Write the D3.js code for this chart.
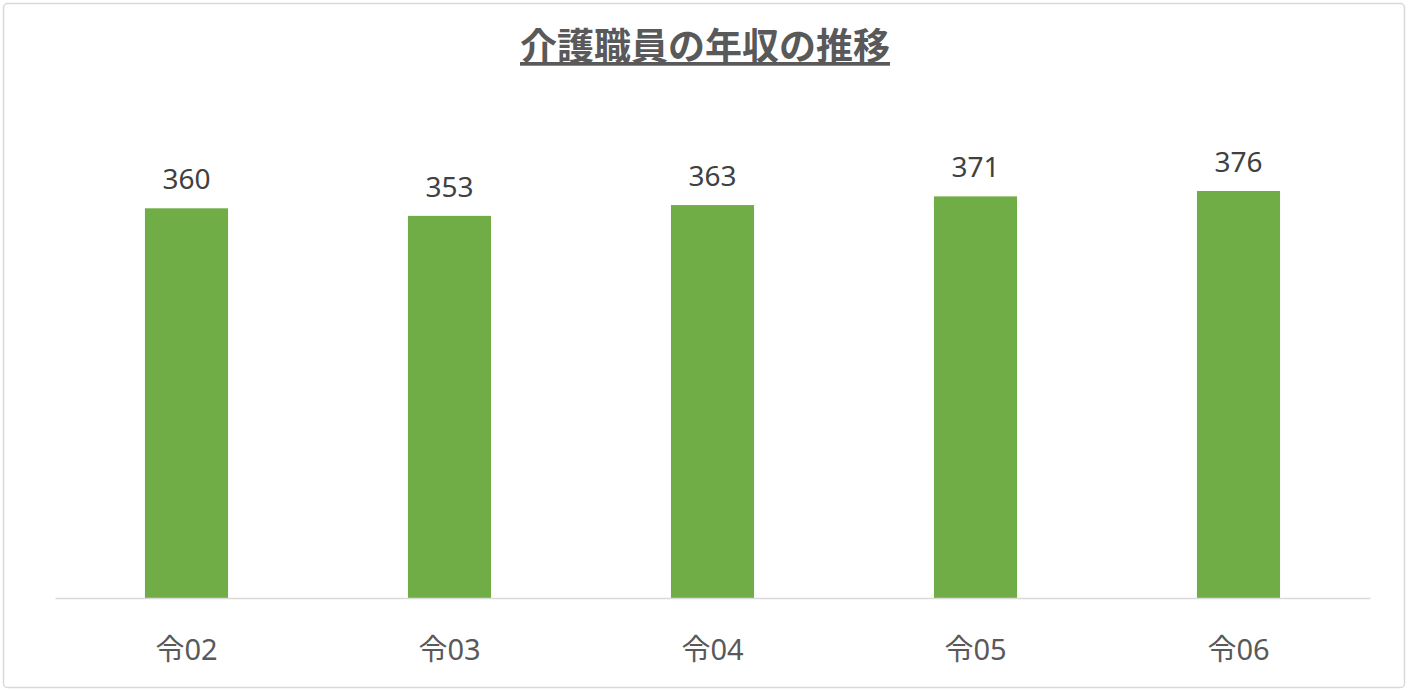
<!DOCTYPE html>
<html>
<head>
<meta charset="utf-8">
<script src="https://cdn.jsdelivr.net/npm/d3@7"></script>
<style>
  body { margin: 0; background: #fff; }
  #chart { width: 1408px; height: 691px; }
  text { font-family: "Noto Sans", "Noto Sans CJK JP", sans-serif; }
</style>
</head>
<body>
<div id="chart"></div>
<script>
const categories = ["令02", "令03", "令04", "令05", "令06"];
const values = [360, 353, 363, 371, 376];
const title = "介護職員の年収の推移";

const width = 1408;
const height = 691;
const margin = { top: 165, right: 38, bottom: 93, left: 55 };

const svg = d3.select("#chart")
  .append("svg")
  .attr("width", width)
  .attr("height", height);

// chart frame
svg.append("rect")
  .attr("x", 3.5)
  .attr("y", 3.5)
  .attr("width", width - 7)
  .attr("height", height - 7)
  .attr("rx", 4)
  .attr("fill", "#fff")
  .attr("stroke", "#d9d9d9")
  .attr("stroke-width", 1.5);

const x = d3.scaleBand()
  .domain(categories)
  .range([margin.left, width - margin.right])
  .paddingInner(0.684)
  .paddingOuter(0.342);

const y = d3.scaleLinear()
  .domain([0, 400])
  .range([height - margin.bottom, margin.top]);

svg.append("text")
  .attr("x", 705)
  .attr("y", 60)
  .attr("text-anchor", "middle")
  .attr("font-size", 37)
  .attr("font-weight", "bold")
  .attr("fill", "#595959")
  .attr("font-family", "\"Noto Sans CJK JP\", sans-serif")
  .attr("text-decoration", "underline")
  .text(title);

svg.selectAll("rect.bar")
  .data(values)
  .join("rect")
  .attr("class", "bar")
  .attr("x", (d, i) => x(categories[i]))
  .attr("y", d => y(d))
  .attr("width", x.bandwidth())
  .attr("height", d => y(0) - y(d))
  .attr("fill", "#70ad47");

svg.selectAll("text.val")
  .data(values)
  .join("text")
  .attr("class", "val")
  .attr("x", (d, i) => x(categories[i]) + x.bandwidth() / 2)
  .attr("y", d => y(d) - 19)
  .attr("text-anchor", "middle")
  .attr("font-size", 28)
  .attr("fill", "#404040")
  .text(d => d);

const xAxis = d3.axisBottom(x).tickSize(0).tickPadding(41);
const gx = svg.append("g")
  .attr("transform", "translate(0," + y(0) + ")")
  .call(xAxis);
gx.select(".domain").attr("stroke", "#d9d9d9").attr("stroke-width", 1.5);
gx.selectAll("text")
  .attr("font-size", 29)
  .attr("fill", "#595959")
  .attr("font-family", "\"Noto Sans\", \"Noto Sans CJK JP\", sans-serif");
</script>
</body>
</html>
